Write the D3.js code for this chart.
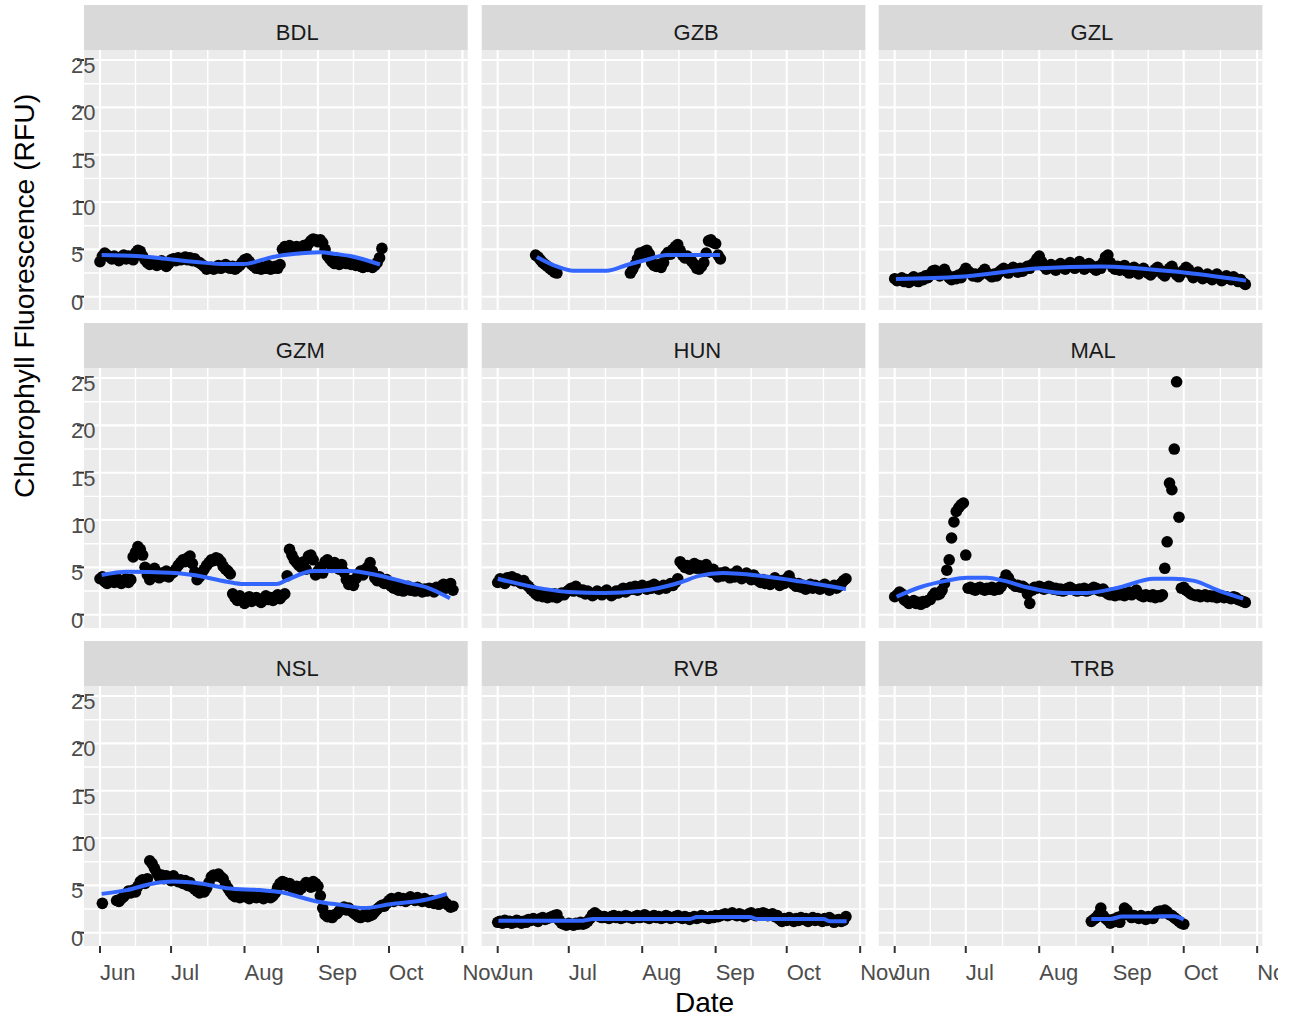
<!DOCTYPE html>
<html><head><meta charset="utf-8">
<script src="https://cdn.jsdelivr.net/npm/d3@7"></script>
<style>body{margin:0;background:#fff}svg{display:block}</style>
</head><body>
<svg id="chart" width="1295" height="1020"></svg>
<script>
// ---------- DATA ----------
const sites = ["BDL","GZB","GZL","GZM","HUN","MAL","NSL","RVB","TRB"];
const monthLabels = ["Jun","Jul","Aug","Sep","Oct","Nov"];
const yTickValues = [0,5,10,15,20,25];
const xTitle = "Date";
const yTitle = "Chlorophyll Fluorescence (RFU)";
// daily readings: each site has segments of consecutive days (start = days after 1 June)
const bdlStarts = [0];
const bdlValues = [[3.7,4.3,4.6,4.4,4.2,4.0,4.3,4.1,3.8,4.2,4.4,4.0,4.3,4.1,3.9,4.6,4.9,4.8,4.3,3.9,3.6,3.4,3.7,3.5,3.3,3.6,3.8,3.4,3.2,3.5,3.9,4.0,3.8,4.1,3.9,4.0,4.2,3.9,4.1,3.8,4.0,3.7,3.6,3.4,3.2,2.9,3.0,3.1,2.9,3.1,3.3,3.0,3.2,3.4,3.1,3.0,3.2,2.9,3.1,3.3,3.6,3.9,4.0,3.7,3.4,3.2,3.0,3.3,2.9,3.1,3.0,3.3,2.9,3.0,3.2,3.0,3.4,5.0,5.3,5.1,5.4,5.0,5.2,5.3,5.0,5.2,5.4,5.1,5.6,5.9,6.1,6.0,5.8,6.0,5.7,5.0,4.3,4.0,3.7,3.5,3.8,3.4,3.6,3.9,3.5,3.7,3.4,3.6,3.3,3.5,3.2,3.1,3.4,3.2,3.3,3.1,3.3,3.6,4.1,5.1]];
const gzbStarts = [16, 56];
const gzbValues = [[4.4,4.2,3.9,3.6,3.4,3.2,3.0,2.8,2.6,2.5],
  [2.5,2.9,3.4,4.0,4.6,4.3,4.8,4.9,4.5,3.6,3.3,3.2,3.4,3.1,3.6,4.4,4.7,4.5,5.0,5.3,5.5,4.9,4.4,4.1,4.3,4.0,3.7,3.4,3.0,2.9,3.2,3.6,4.6,5.9,6.0,5.7,5.6,4.4,4.0]];
const gzlStarts = [0];
const gzlValues = [[1.9,1.7,1.8,2.0,1.6,1.8,1.5,1.9,2.1,1.7,1.6,2.0,1.8,2.2,2.0,2.4,2.7,2.8,2.5,2.2,2.6,2.9,2.4,2.0,1.8,2.1,1.9,2.3,2.0,2.6,3.0,2.7,2.5,2.2,2.4,2.1,2.3,2.6,2.9,2.5,2.3,2.1,2.4,2.2,2.6,2.8,3.0,2.7,2.5,2.9,3.1,2.8,2.6,3.0,2.7,2.9,3.2,3.0,3.4,3.6,4.0,4.3,3.7,3.2,2.9,3.1,3.4,3.0,2.8,3.3,3.5,3.1,2.9,3.2,3.6,3.3,3.0,3.4,3.7,3.2,2.9,3.1,3.5,3.3,3.0,2.8,3.2,3.0,3.6,4.2,4.4,3.6,3.1,2.9,3.2,2.8,3.0,3.3,2.7,2.5,2.9,3.1,2.6,2.4,2.8,3.0,2.7,2.5,2.3,2.6,2.9,3.1,2.8,2.4,2.2,2.6,3.0,3.2,2.7,2.3,2.1,2.5,2.8,3.1,2.9,2.4,2.0,2.3,2.6,2.2,1.9,2.1,2.4,2.0,1.8,2.2,2.4,2.0,1.7,1.9,2.2,2.0,1.8,2.1,1.9,1.6,1.8,1.5,1.3]];
const gzmStarts = [0];
const gzmValues = [[3.8,4.0,3.5,3.3,3.7,3.6,3.4,3.9,3.5,3.3,3.6,3.8,3.4,3.7,6.1,6.6,7.2,6.9,6.3,5.0,4.2,3.7,4.5,4.9,4.2,3.9,4.4,4.1,4.6,4.0,4.3,4.5,4.8,5.2,5.5,5.8,5.6,6.0,6.2,5.4,4.5,3.7,4.0,4.4,4.8,5.2,5.5,5.8,5.7,6.0,5.9,5.6,5.1,4.8,4.6,4.3,2.2,1.8,1.5,2.0,1.6,1.2,1.7,1.9,1.4,1.6,1.8,1.5,1.3,1.7,2.0,1.6,1.8,1.5,1.9,2.1,1.7,2.0,2.2,4.1,6.9,6.3,5.8,5.5,5.2,5.0,5.6,4.8,6.2,6.3,5.8,4.2,4.6,5.0,4.4,5.6,5.8,5.4,5.0,5.5,5.2,4.8,5.3,4.5,3.7,3.2,3.6,3.1,3.8,4.3,4.6,4.2,4.8,5.0,5.5,4.6,3.9,3.6,4.0,3.5,3.3,3.7,3.2,3.0,2.8,3.1,2.6,2.9,2.5,2.7,3.0,2.6,2.8,2.5,2.9,2.6,2.4,2.7,2.5,2.8,2.6,2.4,2.9,2.7,3.0,3.2,2.8,3.1,3.3,2.6]];
const hunStarts = [0];
const hunValues = [[3.4,3.8,3.5,3.3,3.9,3.7,4.0,3.6,3.8,3.5,3.3,3.6,3.2,3.0,2.7,2.5,2.2,2.0,2.1,1.9,2.0,1.8,2.1,1.9,2.2,1.8,2.0,2.3,2.1,2.4,2.6,2.8,2.5,3.0,2.7,2.4,2.6,2.2,2.5,2.3,2.0,2.2,2.5,2.3,2.1,2.4,2.6,2.3,2.0,2.2,2.5,2.3,2.6,2.8,2.4,2.6,2.9,2.7,3.0,2.6,2.8,3.1,2.9,2.7,3.0,2.8,3.2,3.0,2.7,2.9,3.1,2.8,3.0,3.3,3.1,3.4,3.8,5.6,5.3,5.0,5.2,4.8,5.1,5.4,4.9,5.2,5.0,4.6,5.3,4.9,4.5,4.8,4.3,4.0,4.4,4.1,4.5,4.2,3.9,4.3,4.0,4.6,4.2,3.8,4.1,4.4,4.0,3.7,4.2,3.9,3.6,3.4,3.7,3.3,3.6,3.2,3.5,3.9,3.4,3.1,3.6,3.3,3.8,4.1,3.5,3.2,3.0,3.3,2.9,3.1,2.7,3.0,3.2,2.8,3.1,2.9,2.7,3.0,3.2,2.8,2.6,2.9,3.1,2.8,3.0,3.3,3.6,3.8]];
const malStarts = [0];
const malValues = [[1.9,2.1,2.4,2.2,1.6,1.4,1.2,1.3,1.5,1.2,1.3,1.1,1.4,1.3,1.5,1.6,2.0,2.3,2.1,2.2,2.6,3.3,4.7,5.8,8.1,9.8,10.9,11.3,11.6,11.8,6.3,2.8,2.9,2.7,2.6,2.8,2.9,2.7,2.6,2.8,2.7,2.9,2.6,2.8,2.7,3.0,3.6,4.2,3.9,3.4,3.2,3.0,3.1,2.9,3.0,2.8,2.2,1.2,2.6,2.9,2.8,3.0,2.9,2.7,2.8,3.0,2.9,2.7,2.8,2.6,2.7,2.5,2.6,2.8,2.9,2.7,2.6,2.5,2.7,2.6,2.8,2.5,2.6,2.7,2.9,2.8,2.6,2.5,2.7,2.4,2.2,2.1,2.3,2.0,2.2,2.1,2.3,2.0,2.2,2.4,2.1,2.3,2.6,2.2,2.0,1.9,2.1,2.0,1.9,2.1,1.8,2.0,1.9,2.1,4.9,7.7,13.9,13.2,17.5,24.6,10.3,2.8,2.9,2.6,2.4,2.2,2.1,2.0,2.1,1.9,2.0,2.1,1.9,2.0,1.9,2.0,1.8,1.9,2.0,1.8,1.9,1.8,1.7,1.9,1.8,1.6,1.5,1.4,1.3]];
const nslStarts = [1, 7];
const nslValues = [[3.1],
  [3.4,3.3,3.6,3.8,4.1,4.4,4.2,4.5,4.3,4.9,5.4,5.6,5.2,5.7,7.6,7.3,6.8,6.3,5.9,6.1,5.7,6.0,5.8,5.5,6.0,5.7,5.4,5.6,5.2,5.5,5.0,5.3,4.8,4.6,4.4,4.2,4.5,4.3,4.7,5.3,5.9,6.1,6.0,6.2,5.9,5.7,5.1,4.7,4.3,4.0,3.8,3.9,3.7,4.0,3.8,3.9,3.6,3.8,4.0,3.7,3.9,3.8,3.6,3.9,4.0,3.7,3.9,4.2,4.8,5.2,5.4,5.3,5.0,5.2,4.8,4.6,4.9,4.5,4.7,5.0,5.3,5.1,4.8,5.4,5.2,4.9,3.9,2.6,1.9,1.7,1.8,1.6,1.9,2.0,2.3,2.5,2.7,2.4,2.6,2.3,2.1,1.9,1.7,1.6,1.8,2.0,1.7,1.8,1.9,2.2,2.5,2.7,2.9,2.8,3.1,3.4,3.6,3.3,3.5,3.7,3.4,3.6,3.3,3.5,3.8,3.6,3.4,3.7,3.5,3.3,3.6,3.4,3.2,3.4,3.1,3.3,3.0,3.2,3.4,3.1,2.9,2.7,2.8]];
const rvbStarts = [0];
const rvbValues = [[1.1,1.2,1.0,1.3,1.1,1.2,1.0,1.1,1.3,1.2,1.0,1.2,1.1,1.4,1.3,1.5,1.4,1.2,1.5,1.6,1.4,1.5,1.6,1.7,1.8,1.9,1.3,1.0,0.9,0.8,1.0,0.9,0.8,1.0,0.9,1.1,0.9,1.0,1.2,1.5,1.9,2.1,1.9,1.7,1.6,1.7,1.6,1.5,1.7,1.8,1.6,1.7,1.5,1.6,1.8,1.7,1.6,1.5,1.7,1.8,1.6,1.7,1.9,1.6,1.5,1.7,1.8,1.6,1.7,1.5,1.6,1.8,1.7,1.5,1.6,1.7,1.8,1.6,1.5,1.7,1.6,1.4,1.6,1.7,1.5,1.6,1.8,1.7,1.6,1.5,1.7,1.6,1.8,1.7,1.8,1.9,2.0,1.8,1.9,2.1,1.9,1.8,2.0,1.9,1.7,1.8,2.0,2.1,1.9,1.8,2.0,1.9,2.1,2.0,1.8,1.9,2.0,1.7,1.8,1.4,1.2,1.5,1.3,1.6,1.4,1.2,1.5,1.3,1.6,1.4,1.5,1.2,1.4,1.6,1.3,1.5,1.4,1.2,1.5,1.3,1.6,1.4,1.1,1.3,1.4,1.2,1.3,1.7]];
const trbStarts = [83];
const trbValues = [[1.2,1.4,1.6,1.9,2.6,1.8,1.5,1.3,1.0,1.4,1.2,1.6,1.1,1.8,2.6,2.4,1.9,1.6,1.8,1.7,1.5,1.8,1.6,1.4,1.7,1.6,1.5,1.9,2.2,2.3,2.1,2.4,2.2,1.9,1.8,1.6,1.4,1.2,1.0,0.9]];
// loess smooth lines (days after 1 June, value)
const bdlSmoothDays = [0.7,15.5,29.5,43.6,52,60.5,73,81.6,92.9,100,105.5,118.2];
const bdlSmoothValues = [4.4,4.3,3.95,3.6,3.45,3.45,4.2,4.5,4.7,4.5,4.3,3.4];
const gzbSmoothDays = [16.5,24.9,31.9,46,54.5,62.9,71.4,93.8];
const gzbSmoothValues = [4.2,3.2,2.75,2.75,3.35,3.9,4.4,4.4];
const gzlSmoothDays = [0.5,27.6,61.3,86.7,120.4,148.3];
const gzlSmoothValues = [1.87,2.1,3.0,3.2,2.6,1.7];
const gzmSmoothDays = [0.7,11.3,29.5,39.4,53.5,60.5,74.6,78.8,90.1,105.5,116.8,130.9,137.9,147.7];
const gzmSmoothValues = [4.19,4.54,4.44,4.19,3.49,3.24,3.24,3.66,4.61,4.61,4.19,3.31,2.89,1.73];
const hunSmoothDays = [0,20,30,45,60,77,85,95,103,128,147];
const hunSmoothValues = [3.8,2.7,2.4,2.3,2.5,3.4,4.1,4.4,4.3,3.5,2.7];
const malSmoothDays = [0.8,10.7,22,30.4,38.9,45.9,55.7,71.2,81,95.1,109.2,117.6,126,137.3,147.1];
const malSmoothValues = [1.9,2.9,3.6,3.9,3.9,3.6,2.9,2.3,2.3,2.9,3.8,3.8,3.6,2.5,1.7];
const nslSmoothDays = [0.7,11.3,22.5,31,42.2,53.5,67.5,76,91.5,102.7,111.2,122.4,137.9,146.4];
const nslSmoothValues = [4.1,4.5,5.2,5.4,5.2,4.7,4.5,4.3,3.3,2.9,2.6,3.0,3.5,4.1];
const rvbSmoothDays = [0.3,34.7,40.4,81.2,84,106.5,109.3,137.5,140.4,147.3];
const rvbSmoothValues = [1.25,1.25,1.45,1.45,1.65,1.65,1.45,1.45,1.2,1.2];
const trbSmoothDays = [83,91,96,110,112,118,122];
const trbSmoothValues = [1.45,1.45,1.7,1.7,1.75,1.75,1.4];

const siteStarts = [bdlStarts,gzbStarts,gzlStarts,gzmStarts,hunStarts,malStarts,nslStarts,rvbStarts,trbStarts];
const siteValues = [bdlValues,gzbValues,gzlValues,gzmValues,hunValues,malValues,nslValues,rvbValues,trbValues];
const smoothDays = [bdlSmoothDays,gzbSmoothDays,gzlSmoothDays,gzmSmoothDays,hunSmoothDays,malSmoothDays,nslSmoothDays,rvbSmoothDays,trbSmoothDays];
const smoothValues = [bdlSmoothValues,gzbSmoothValues,gzlSmoothValues,gzmSmoothValues,hunSmoothValues,malSmoothValues,nslSmoothValues,rvbSmoothValues,trbSmoothValues];

// ---------- LAYOUT ----------
const colX = [84, 481.7, 878.7], panelW = 383.7;
const rowY = [5, 323, 641], stripH = 45, panelH = 260;
const FONT = "'Liberation Sans', Arial, Helvetica, sans-serif";
const base = Date.UTC(2019, 5, 1);
const day = d => new Date(base + d * 864e5);

const x = d3.scaleUtc().domain([day(-6.754), day(155.21)]).range([0, panelW]);
const y = d3.scaleLinear().domain([-1.405, 26.06]).range([panelH, 0]);

const majorX = d3.utcMonth.range(day(0), day(154));
const minorX = d3.pairs(majorX).map(([a,b]) => new Date((+a + +b)/2));
const minorY = d3.pairs(yTickValues).map(([a,b]) => (a+b)/2);

const svg = d3.select("#chart");
svg.append("rect").attr("width",1295).attr("height",1020).attr("fill","#fff");
const defs = svg.append("defs");
defs.append("clipPath").attr("id","pclip").append("rect").attr("width",panelW).attr("height",panelH);
defs.append("clipPath").attr("id","canvasclip").append("rect").attr("width",1278).attr("height",1020);
const root = svg.append("g").attr("clip-path","url(#canvasclip)");

sites.forEach((site, i) => {
  const r = Math.floor(i/3), c = i % 3;
  const px = colX[c], py = rowY[r] + stripH;
  // strip
  root.append("rect").attr("x",px).attr("y",rowY[r]).attr("width",panelW).attr("height",stripH).attr("fill","#D9D9D9");
  root.append("text").attr("x",px+panelW/2).attr("y",rowY[r]+35).attr("fill","#1A1A1A")
    .attr("font-family",FONT).attr("font-size",22).attr("text-anchor","start").text(site);
  const g = root.append("g").attr("transform",`translate(${px},${py})`);
  g.append("rect").attr("width",panelW).attr("height",panelH).attr("fill","#EBEBEB");
  // minor grid
  g.selectAll(".mny").data(minorY).join("line").attr("x1",0).attr("x2",panelW)
    .attr("y1",d=>y(d)).attr("y2",d=>y(d)).attr("stroke","#fff").attr("stroke-width",1.4);
  g.selectAll(".mnx").data(minorX).join("line").attr("y1",0).attr("y2",panelH)
    .attr("x1",d=>x(d)).attr("x2",d=>x(d)).attr("stroke","#fff").attr("stroke-width",1.4);
  // major grid
  g.selectAll(".mjy").data(yTickValues).join("line").attr("x1",0).attr("x2",panelW)
    .attr("y1",d=>y(d)).attr("y2",d=>y(d)).attr("stroke","#fff").attr("stroke-width",2.1);
  g.selectAll(".mjx").data(majorX).join("line").attr("y1",0).attr("y2",panelH)
    .attr("x1",d=>x(d)).attr("x2",d=>x(d)).attr("stroke","#fff").attr("stroke-width",2.1);
  // points
  const pts = [];
  siteStarts[i].forEach((s, k) => siteValues[i][k].forEach((v, j) => { if (v != null) pts.push({d: day(s + j), v}); }));
  const inner = g.append("g").attr("clip-path","url(#pclip)");
  inner.selectAll("circle").data(pts).join("circle")
    .attr("cx",p=>x(p.d)).attr("cy",p=>y(p.v)).attr("r",5.8).attr("fill","#000");
  // smooth
  const sm = smoothDays[i].map((d,k)=>({d: day(d), v: smoothValues[i][k]}));
  inner.append("path").datum(sm).attr("fill","none").attr("stroke","#3366FF").attr("stroke-width",4)
    .attr("stroke-linejoin","round")
    .attr("d", d3.line().x(p=>x(p.d)).y(p=>y(p.v)).curve(d3.curveMonotoneX));
  // y axis
  if (c === 0) {
    yTickValues.forEach(t => {
      root.append("line").attr("x1",px-7).attr("x2",px).attr("y1",py+y(t)).attr("y2",py+y(t))
        .attr("stroke","#333").attr("stroke-width",2);
      root.append("text").attr("x",71).attr("y",py+y(t)+13).attr("fill","#4D4D4D")
        .attr("font-family",FONT).attr("font-size",22).attr("text-anchor","start").text(t);
    });
  }
  // x axis
  if (r === 2) {
    majorX.forEach((t, k) => {
      root.append("line").attr("x1",px+x(t)).attr("x2",px+x(t)).attr("y1",py+panelH).attr("y2",py+panelH+7)
        .attr("stroke","#333").attr("stroke-width",2);
      root.append("text").attr("x",px+x(t)).attr("y",980).attr("fill","#4D4D4D")
        .attr("font-family",FONT).attr("font-size",22).attr("text-anchor","start").text(monthLabels[k]);
    });
  }
});

root.append("text").attr("x",675).attr("y",1012).attr("font-family",FONT).attr("font-size",28)
  .attr("fill","#000").attr("text-anchor","start").text(xTitle);
root.append("text").attr("transform","translate(34,498) rotate(-90)").attr("font-family",FONT).attr("font-size",28.3)
  .attr("fill","#000").attr("text-anchor","start").text(yTitle);
</script>
</body></html>
